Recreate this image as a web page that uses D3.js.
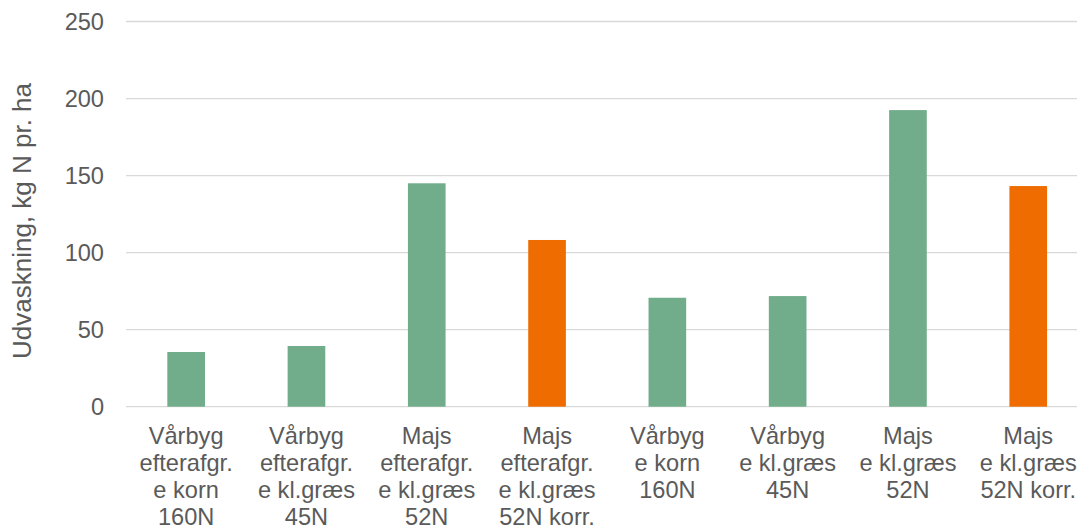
<!DOCTYPE html>
<html>
<head>
<meta charset="utf-8">
<script src="https://cdn.jsdelivr.net/npm/d3@7"></script>
<style>
  html, body { margin: 0; padding: 0; background: #fff; }
  svg { display: block; font-family: "Liberation Sans", Arial, sans-serif; }
</style>
</head>
<body>
<svg id="chart" width="1077" height="529"></svg>
<script>
// Nitrogen leaching per crop scenario (kg N per ha)
const categories = [
  ["Vårbyg", "efterafgr.", "e korn", "160N"],
  ["Vårbyg", "efterafgr.", "e kl.græs", "45N"],
  ["Majs", "efterafgr.", "e kl.græs", "52N"],
  ["Majs", "efterafgr.", "e kl.græs", "52N korr."],
  ["Vårbyg", "e korn", "160N"],
  ["Vårbyg", "e kl.græs", "45N"],
  ["Majs", "e kl.græs", "52N"],
  ["Majs", "e kl.græs", "52N korr."]
];
const values = [35.5, 39.4, 145, 108.2, 70.7, 71.8, 192.5, 143.2];
const corrected = [false, false, false, true, false, false, false, true];
const yTicks = [0, 50, 100, 150, 200, 250];
const yTitle = "Udvaskning, kg N pr. ha";

const svg = d3.select("#chart");
const plotLeft = 126, plotRight = 1088.4, plotTop = 21.5, plotBottom = 406.7;
const textColor = "#5a5a5a";

const x = d3.scaleBand()
  .domain(d3.range(categories.length))
  .range([plotLeft, plotRight])
  .paddingInner(0.687)
  .paddingOuter(0.3435);

const y = d3.scaleLinear().domain([0, 250]).range([plotBottom, plotTop]);

// horizontal gridlines
svg.append("g")
  .selectAll("line")
  .data(yTicks)
  .join("line")
  .attr("x1", plotLeft)
  .attr("x2", plotRight)
  .attr("y1", d => y(d))
  .attr("y2", d => y(d))
  .attr("stroke", "#d9d9d9")
  .attr("stroke-width", 1.3);

// y axis tick labels
const yAxis = d3.axisLeft(y).tickValues(yTicks).tickSize(0).tickPadding(22);
svg.append("g")
  .attr("transform", `translate(${plotLeft},0)`)
  .call(yAxis)
  .call(g => g.select(".domain").remove())
  .call(g => g.selectAll("text")
    .attr("fill", textColor)
    .attr("font-size", "23.6px")
    .attr("font-family", "Liberation Sans, Arial, sans-serif"));

// bars
svg.append("g")
  .selectAll("rect")
  .data(values)
  .join("rect")
  .attr("x", (d, i) => x(i))
  .attr("width", x.bandwidth())
  .attr("y", d => y(d))
  .attr("height", d => y(0) - y(d))
  .attr("fill", (d, i) => corrected[i] ? "#ee6c00" : "#71ad8a");

// category labels (multi-line)
const xl = svg.append("g")
  .selectAll("text")
  .data(categories)
  .join("text")
  .attr("text-anchor", "middle")
  .attr("fill", textColor)
  .attr("font-size", "23.6px")
  .attr("x", (d, i) => x(i) + x.bandwidth() / 2)
  .attr("y", 444);
xl.selectAll("tspan")
  .data(d => d)
  .join("tspan")
  .attr("x", function () { return d3.select(this.parentNode).attr("x"); })
  .attr("dy", (d, i) => i === 0 ? 0 : 27)
  .text(d => d);

// y axis title
svg.append("text")
  .attr("transform", `translate(31,${(82 + 360) / 2}) rotate(-90)`)
  .attr("text-anchor", "middle")
  .attr("fill", textColor)
  .attr("font-size", "26px")
  .text(yTitle);
</script>
</body>
</html>
